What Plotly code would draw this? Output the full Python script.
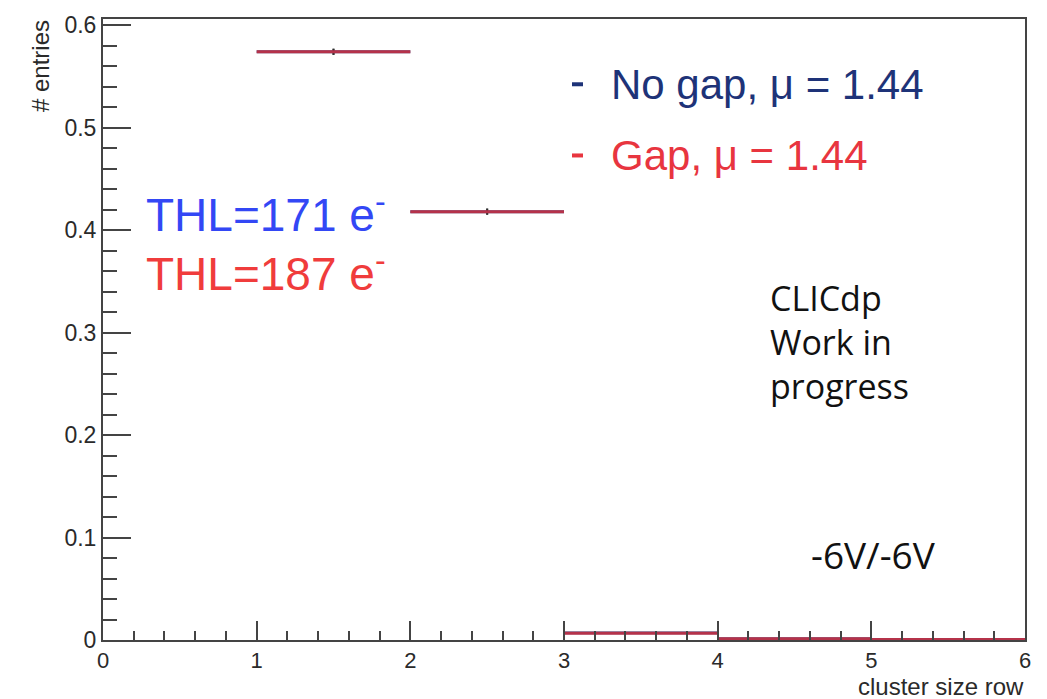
import plotly.graph_objects as go

# ---- data ----
bin_centers = [1.5, 2.5, 3.5, 4.5, 5.5]
bin_halfwidths = [0.5, 0.5, 0.5, 0.5, 0.5]
nogap_values = [0.574, 0.418, 0.0068, 0.0012, 0.0004]
nogap_errors = [0.003, 0.003, 0.0004, 0.0002, 0.0001]
gap_values = [0.574, 0.418, 0.0066, 0.0011, 0.0004]
gap_errors = [0.003, 0.003, 0.0004, 0.0002, 0.0001]

x_tickvals = [0, 1, 2, 3, 4, 5, 6]
x_ticktext = ["0", "1", "2", "3", "4", "5", "6"]
y_tickvals = [0, 0.1, 0.2, 0.3, 0.4, 0.5, 0.6]
y_ticktext = ["0", "0.1", "0.2", "0.3", "0.4", "0.5", "0.6"]

NAVY = "#1c2c6e"
RED = "#e8353f"

W, H = 1047, 699
L, R, T, B = 103, 22, 12, 59
pw, ph = W - L - R, H - T - B


def px(x):
    return (x - L) / pw


def py(y):
    return (H - B - y) / ph


fig = go.Figure()
fig.add_trace(go.Scatter(
    x=bin_centers, y=nogap_values, mode="markers",
    marker=dict(size=1, color=NAVY),
    error_x=dict(type="data", array=bin_halfwidths, color=NAVY, thickness=3, width=0),
    error_y=dict(type="data", array=nogap_errors, color="#222", thickness=2, width=0),
    showlegend=False, hoverinfo="skip"))
fig.add_trace(go.Scatter(
    x=bin_centers, y=gap_values, mode="markers", opacity=0.75,
    marker=dict(size=1, color=RED),
    error_x=dict(type="data", array=bin_halfwidths, color=RED, thickness=3, width=0),
    error_y=dict(type="data", array=gap_errors, color="#333", thickness=2, width=0),
    showlegend=False, hoverinfo="skip"))

axis_common = dict(showgrid=False, zeroline=False, showline=True, linecolor="#444",
                   linewidth=2, mirror=True, ticks="inside", tickcolor="#444",
                   tickwidth=1.5)

fig.update_xaxes(range=[0, 6], tickvals=x_tickvals, ticktext=x_ticktext, ticklen=19,
                 tickfont=dict(family="Liberation Sans", size=22, color="#2a2a2a"),
                 minor=dict(dtick=0.2, ticks="inside", ticklen=9, tickcolor="#444", tickwidth=1.5),
                 **axis_common)
fig.update_yaxes(range=[0, 0.606], tickvals=y_tickvals, ticktext=y_ticktext, ticklen=28,
                 tickfont=dict(family="Liberation Sans", size=23, color="#2a2a2a"),
                 minor=dict(dtick=0.02, ticks="inside", ticklen=14, tickcolor="#444", tickwidth=1.5),
                 **axis_common)

ann = []
# axis titles
ann.append(dict(text="# entries", xref="paper", yref="paper", x=px(40), y=py(11),
                xanchor="center", yanchor="top", textangle=-90, showarrow=False,
                font=dict(family="Liberation Sans", size=24, color="#2a2a2a")))
ann.append(dict(text="cluster size row", xref="paper", yref="paper", x=px(1026), y=py(687),
                xanchor="right", yanchor="middle", showarrow=False,
                font=dict(family="Liberation Sans", size=24, color="#2a2a2a")))
# legend texts
ann.append(dict(text="No gap, μ = 1.44", xref="paper", yref="paper", x=px(609), y=py(78),
                xanchor="left", yanchor="middle", showarrow=False,
                font=dict(family="Liberation Sans", size=42, color="#1e3378")))
ann.append(dict(text="Gap, μ = 1.44", xref="paper", yref="paper", x=px(609), y=py(150),
                xanchor="left", yanchor="middle", showarrow=False,
                font=dict(family="Liberation Sans", size=42, color="#e8353f")))
# THL labels
ann.append(dict(text="THL=171 e<sup>-</sup>", xref="paper", yref="paper", x=px(144), y=py(207),
                xanchor="left", yanchor="middle", showarrow=False,
                font=dict(family="Liberation Sans", size=46, color="#3347f5")))
ann.append(dict(text="THL=187 e<sup>-</sup>", xref="paper", yref="paper", x=px(144), y=py(267),
                xanchor="left", yanchor="middle", showarrow=False,
                font=dict(family="Liberation Sans", size=46, color="#f03c3c")))
# CLICdp block
ann.append(dict(text="CLICdp<br>Work in<br>progress", xref="paper", yref="paper", x=px(768), y=py(339),
                xanchor="left", yanchor="middle", align="left", showarrow=False,
                font=dict(family="Open Sans", size=34, color="#111")))
ann.append(dict(text="-6V/-6V", xref="paper", yref="paper", x=px(809), y=py(554),
                xanchor="left", yanchor="middle", showarrow=False,
                font=dict(family="Open Sans", size=37, color="#111")))

shapes = [
    dict(type="line", xref="paper", yref="paper", x0=px(572), x1=px(583), y0=py(78), y1=py(78),
         line=dict(color="#1e3378", width=4)),
    dict(type="line", xref="paper", yref="paper", x0=px(572), x1=px(583), y0=py(150), y1=py(150),
         line=dict(color="#e8353f", width=4)),
]

fig.update_layout(width=W, height=H, margin=dict(l=L, r=R, t=T, b=B),
                  paper_bgcolor="white", plot_bgcolor="white",
                  annotations=ann, shapes=shapes)

fig.write_html("out.html")
